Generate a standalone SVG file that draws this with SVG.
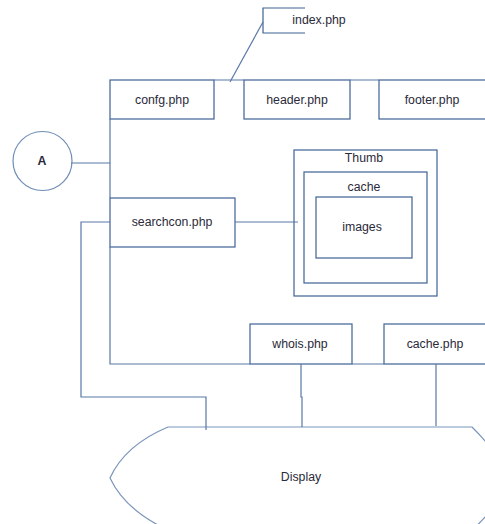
<svg xmlns="http://www.w3.org/2000/svg" width="485" height="524" viewBox="0 0 485 524">
<style>
.b{fill:#fff;stroke:#3f6294;stroke-width:1.2}
.l{fill:none;stroke:#5878a6;stroke-width:1.2}
.t{font-family:"Liberation Sans",Arial,sans-serif;font-size:12.3px;fill:#2a2a3a;text-anchor:middle;dominant-baseline:central}
</style>
<rect width="485" height="524" fill="#fff"/>
<g id="index"><path class="b" style="fill:none" d="M305,8 H263 V33 H305"/><text class="t" x="319" y="20">index.php</text></g>
<g id="confg"><rect class="b" x="110" y="80" width="104" height="39"/><text class="t" x="162" y="100">confg.php</text></g>
<g id="header"><rect class="b" x="244" y="80" width="106" height="39"/><text class="t" x="297" y="100">header.php</text></g>
<g id="footer"><rect class="b" x="379" y="80" width="110" height="39"/><text class="t" x="432" y="100">footer.php</text></g>
<g id="A"><circle cx="42.5" cy="161" r="29.5" fill="#fff" stroke="#6f8db5" stroke-width="1.2"/><text class="t" x="42" y="161" style="font-weight:bold">A</text></g>
<g id="searchcon"><rect class="b" x="110" y="198" width="125" height="49"/><text class="t" x="172" y="222">searchcon.php</text></g>
<g id="thumb"><rect class="b" x="294" y="150" width="143" height="146"/><text class="t" x="364" y="158">Thumb</text>
<rect class="b" x="304" y="172" width="123" height="111"/><text class="t" x="364" y="187">cache</text>
<rect class="b" x="316" y="197" width="96" height="61"/><text class="t" x="362" y="227">images</text></g>
<g id="whois"><rect class="b" x="250" y="324" width="102" height="40"/><text class="t" x="300" y="344">whois.php</text></g>
<g id="cachephp"><rect class="b" x="384" y="324" width="105" height="40"/><text class="t" x="435" y="344">cache.php</text></g>
<g id="display"><path fill="#fff" stroke="#7a95bb" stroke-width="1.2" d="M168,427 H472 Q500,455 510,478 Q500,505 472,530 H168 Q125,510 110,478 Q125,445 168,427 Z"/><text class="t" x="301" y="477">Display</text></g>
<g id="connectors">
<path class="l" d="M230,82 L263,22"/>
<path class="l" d="M214,80 H244 M350,80 H379"/>
<path class="l" d="M110,119 V198 M110,247 V364 H250 M352,364 H384"/>
<path class="l" d="M71,163 H110"/>
<path class="l" d="M235,222 H298"/>
<path class="l" d="M110,222 H81 V397 H206 V430"/>
<path class="l" d="M301,364 V397 H302 V427"/>
<path class="l" d="M436,364 V426"/>
</g>
</svg>
